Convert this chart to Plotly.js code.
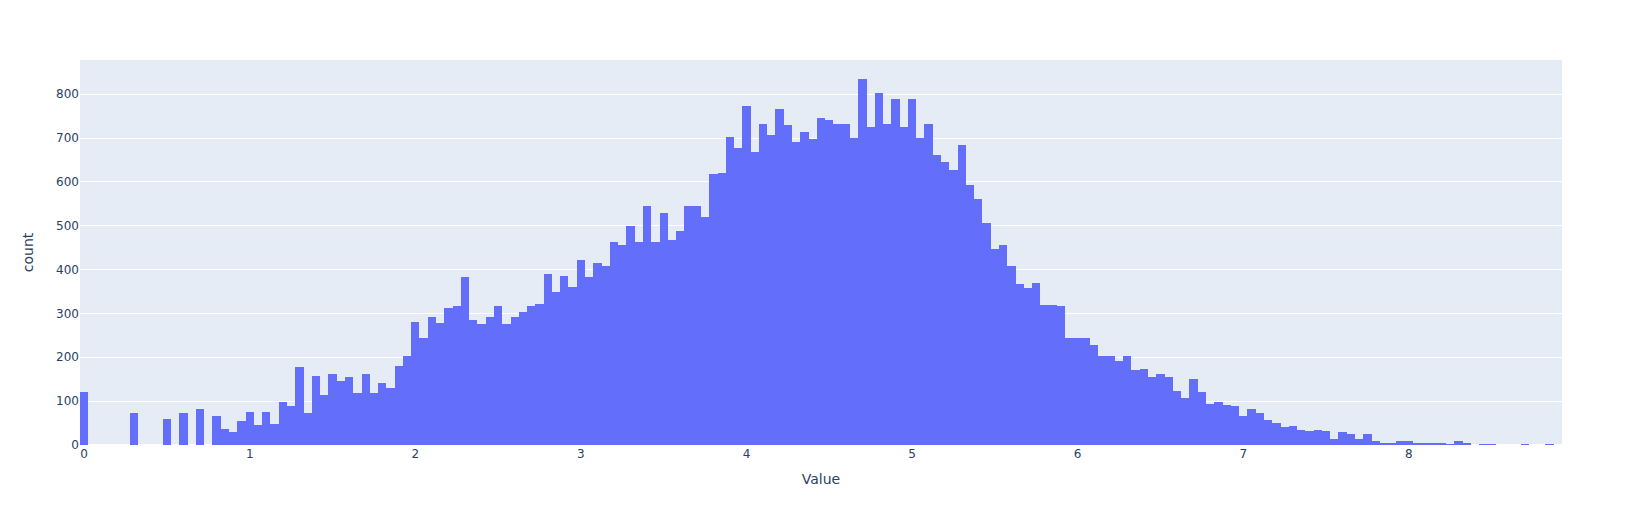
<!DOCTYPE html>
<html>
<head>
<meta charset="utf-8">
<script src="https://cdn.plot.ly/plotly-3.0.1.min.js"></script>
<style>html,body{margin:0;padding:0;background:#fff;}</style>
</head>
<body>
<div id="chart" style="width:1642px;height:525px;"></div>
<script>
// Bin centers (bin width 0.05)
const binCenters = [
  0.00,0.05,0.10,0.15,0.20,0.25,0.30,0.35,0.40,0.45,0.50,0.55,0.60,0.65,0.70,0.75,0.80,0.85,0.90,0.95,
  1.00,1.05,1.10,1.15,1.20,1.25,1.30,1.35,1.40,1.45,1.50,1.55,1.60,1.65,1.70,1.75,1.80,1.85,1.90,1.95,
  2.00,2.05,2.10,2.15,2.20,2.25,2.30,2.35,2.40,2.45,2.50,2.55,2.60,2.65,2.70,2.75,2.80,2.85,2.90,2.95,
  3.00,3.05,3.10,3.15,3.20,3.25,3.30,3.35,3.40,3.45,3.50,3.55,3.60,3.65,3.70,3.75,3.80,3.85,3.90,3.95,
  4.00,4.05,4.10,4.15,4.20,4.25,4.30,4.35,4.40,4.45,4.50,4.55,4.60,4.65,4.70,4.75,4.80,4.85,4.90,4.95,
  5.00,5.05,5.10,5.15,5.20,5.25,5.30,5.35,5.40,5.45,5.50,5.55,5.60,5.65,5.70,5.75,5.80,5.85,5.90,5.95,
  6.00,6.05,6.10,6.15,6.20,6.25,6.30,6.35,6.40,6.45,6.50,6.55,6.60,6.65,6.70,6.75,6.80,6.85,6.90,6.95,
  7.00,7.05,7.10,7.15,7.20,7.25,7.30,7.35,7.40,7.45,7.50,7.55,7.60,7.65,7.70,7.75,7.80,7.85,7.90,7.95,
  8.00,8.05,8.10,8.15,8.20,8.25,8.30,8.35,8.40,8.45,8.50,8.55,8.60,8.65,8.70,8.75,8.80,8.85,8.90
];

// Counts per bin
const counts = [
  120,0,0,0,0,0,74,0,0,0,60,0,74,0,83,0,65,37,30,55,
  76,46,76,49,97,90,179,72,158,115,163,145,156,119,161,119,142,131,181,204,
  281,245,291,279,313,316,384,284,277,291,316,277,293,304,316,322,391,350,386,361,
  421,382,416,409,462,455,500,464,544,462,528,468,489,544,544,519,617,621,703,678,
  774,667,733,708,767,729,692,713,697,745,740,733,733,699,834,726,802,733,788,726,
  788,701,731,662,646,628,683,592,562,507,448,455,409,366,359,370,320,320,316,243,
  245,243,227,202,202,192,202,170,174,156,161,154,124,108,151,122,94,99,92,90,
  65,81,72,56,51,40,44,35,33,35,33,14,30,24,14,24,10,5,5,10,
  10,3,5,3,3,1,8,3,0,1,1,0,0,0,1,0,0,1,0
];

const xTitle = "Value";
const yTitle = "count";

const trace = {
  type: "bar",
  x: binCenters,
  y: counts,
  marker: {color: "#636efa", line: {width: 0}},
  hoverinfo: "x+y"
};

const layout = {
  width: 1642,
  height: 525,
  margin: {l: 80, r: 80, t: 60, b: 80},
  paper_bgcolor: "#ffffff",
  plot_bgcolor: "#E5ECF6",
  font: {family: '"DejaVu Sans", verdana, arial, sans-serif', size: 12, color: "#2a3f5f"},
  bargap: 0,
  showlegend: false,
  xaxis: {
    title: {text: xTitle, standoff: 14},
    range: [-0.025, 8.925],
    showgrid: false,
    zeroline: false,
    tick0: 0,
    dtick: 1,
    ticks: "",
    automargin: true
  },
  yaxis: {
    title: {text: yTitle, standoff: 19},
    gridcolor: "#ffffff",
    gridwidth: 1,
    zeroline: true,
    zerolinecolor: "#ffffff",
    zerolinewidth: 2,
    dtick: 100,
    ticks: "",
    automargin: true
  }
};

Plotly.newPlot("chart", [trace], layout, {displayModeBar: false, responsive: false});
</script>
</body>
</html>
